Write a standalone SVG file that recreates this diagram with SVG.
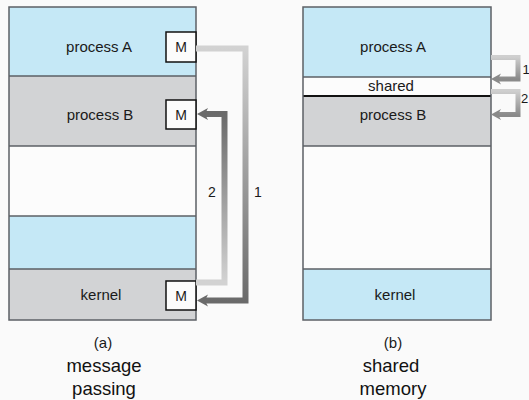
<svg xmlns="http://www.w3.org/2000/svg" width="529" height="400" viewBox="0 0 529 400">
<style>
text{font-family:"Liberation Sans",Arial,sans-serif;fill:#1a1a1a;}
.lbl{font-size:15px;text-anchor:middle;}
.m{font-size:14px;text-anchor:middle;}
.num{font-size:14px;text-anchor:middle;}
.numr{font-size:13px;text-anchor:start;}
.cap{font-size:15px;text-anchor:middle;}
.big{font-size:18.5px;text-anchor:middle;fill:#111;}
.blue{fill:#c5e8f6;}
.gray{fill:#d2d3d5;}
.white{fill:#fcfcfc;}
.sep{stroke:#5c6066;stroke-width:1.5;fill:none;}
.frame{fill:none;stroke:#5c6066;stroke-width:1.5;}
.mbox{fill:#fcfcfc;stroke:#111;stroke-width:1.5;}
.arr{fill:none;stroke-width:6;stroke-linejoin:miter;}
.arr2{fill:none;stroke-width:5;stroke-linejoin:miter;}
</style>
<defs>
<linearGradient id="g1" gradientUnits="userSpaceOnUse" x1="0" y1="48" x2="0" y2="301">
<stop offset="0" stop-color="#d2d2d2"/><stop offset="1" stop-color="#6a6a6a"/>
</linearGradient>
<linearGradient id="g2" gradientUnits="userSpaceOnUse" x1="0" y1="282" x2="0" y2="114">
<stop offset="0" stop-color="#d2d2d2"/><stop offset="1" stop-color="#6a6a6a"/>
</linearGradient>
<linearGradient id="g3" gradientUnits="userSpaceOnUse" x1="0" y1="57" x2="0" y2="79">
<stop offset="0" stop-color="#cfcfcf"/><stop offset="1" stop-color="#8a8a8a"/>
</linearGradient>
<linearGradient id="g4" gradientUnits="userSpaceOnUse" x1="0" y1="91" x2="0" y2="115">
<stop offset="0" stop-color="#cfcfcf"/><stop offset="1" stop-color="#8a8a8a"/>
</linearGradient>
<marker id="hd" markerUnits="userSpaceOnUse" viewBox="0 -7 12 14" markerWidth="12" markerHeight="14" refX="3" refY="0" orient="auto" overflow="visible">
<path d="M0,-6 L11,0 L0,6 L3,0 Z" fill="#6a6a6a"/>
</marker>
<marker id="hl" markerUnits="userSpaceOnUse" viewBox="0 -7 12 14" markerWidth="12" markerHeight="14" refX="3" refY="0" orient="auto" overflow="visible">
<path d="M0,-5.5 L10,0 L0,5.5 L3,0 Z" fill="#8a8a8a"/>
</marker>
</defs>
<rect x="0" y="0" width="529" height="400" fill="#fafafa"/>

<g id="mem-a">
<g id="a-processA"><rect class="blue" x="9" y="7" width="187" height="69"/><text class="lbl" x="99" y="52">process A</text></g>
<g id="a-processB"><rect class="gray" x="9" y="76" width="187" height="70"/><text class="lbl" x="100" y="120">process B</text></g>
<g id="a-free"><rect class="white" x="9" y="146" width="187" height="70"/></g>
<g id="a-blue"><rect class="blue" x="9" y="216" width="187" height="53"/></g>
<g id="a-kernel"><rect class="gray" x="9" y="269" width="187" height="51"/><text class="lbl" x="101" y="300">kernel</text></g>
<path class="sep" d="M9,76H196M9,146H196M9,216H196M9,269H196"/>
<rect class="frame" x="9" y="7" width="187" height="313"/>
<g id="a-mA"><rect class="mbox" x="166" y="32" width="30" height="30"/><text class="m" x="181" y="52">M</text></g>
<g id="a-mB"><rect class="mbox" x="166" y="100" width="30" height="29"/><text class="m" x="181" y="119.5">M</text></g>
<g id="a-mK"><rect class="mbox" x="166" y="281" width="30" height="29"/><text class="m" x="181" y="300.5">M</text></g>
</g>

<g id="mem-b">
<g id="b-processA"><rect class="blue" x="303" y="7" width="188" height="70"/><text class="lbl" x="393" y="52">process A</text></g>
<g id="b-shared"><rect class="white" x="303" y="77" width="188" height="19"/><text class="lbl" x="391" y="91">shared</text></g>
<g id="b-processB"><rect class="gray" x="303" y="96" width="188" height="50"/><text class="lbl" x="393" y="120">process B</text></g>
<g id="b-free"><rect class="white" x="303" y="146" width="188" height="123"/></g>
<g id="b-kernel"><rect class="blue" x="303" y="269" width="188" height="51"/><text class="lbl" x="395" y="300">kernel</text></g>
<path class="sep" d="M303,77H491M303,146H491M303,269H491"/>
<path d="M303,96H491" stroke="#111" stroke-width="2.2"/>
<rect class="frame" x="303" y="7" width="188" height="313"/>
</g>

<g id="connectors">
<path class="arr" stroke="url(#g1)" d="M196,48.5H245.5V300.5H205" marker-end="url(#hd)"/>
<path class="arr" stroke="url(#g2)" d="M196,282.5H224.5V114H205" marker-end="url(#hd)"/>
<path class="arr2" stroke="url(#g3)" d="M491,57.5H518V79H498" marker-end="url(#hl)"/>
<path class="arr2" stroke="url(#g4)" d="M491,91.5H518V114.5H498" marker-end="url(#hl)"/>
<text class="num" x="212" y="197">2</text>
<text class="num" x="258" y="197">1</text>
<text class="numr" x="522.5" y="74">1</text>
<text class="numr" x="521" y="103">2</text>
</g>

<g id="captions">
<text class="cap" x="103" y="348">(a)</text>
<text class="big" x="104" y="372">message</text>
<text class="big" x="104" y="395">passing</text>
<text class="cap" x="393" y="348">(b)</text>
<text class="big" x="391" y="372">shared</text>
<text class="big" x="393" y="395">memory</text>
</g>
</svg>
